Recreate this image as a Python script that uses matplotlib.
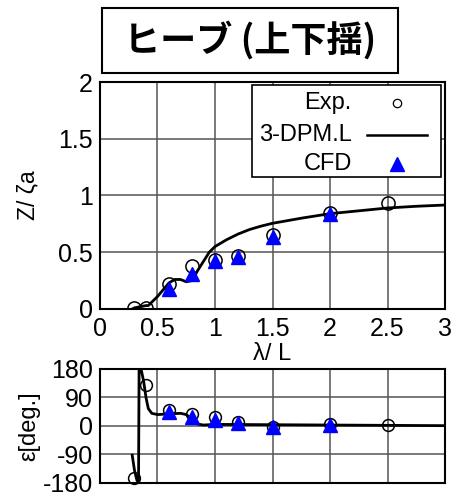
import matplotlib.pyplot as plt
from matplotlib.patches import Rectangle

plt.rcParams['font.family'] = ['Liberation Sans', 'DejaVu Sans']

# measured points
exp_x = [0.3, 0.4, 0.6, 0.8, 1.0, 1.2, 1.5, 2.0, 2.5]
exp_amp = [0.01, 0.01, 0.22, 0.38, 0.43, 0.47, 0.65, 0.85, 0.93]
exp_phase = [-165, 130, 51, 38, 28, 12, -4, 6, 3]

# CFD results
cfd_x = [0.6, 0.8, 1.0, 1.2, 1.5, 2.0]
cfd_amp = [0.18, 0.31, 0.42, 0.46, 0.63, 0.84]
cfd_phase = [45, 27, 19, 8, -2, 3]

# 3-DPM.L curve
dpm_x = [0.28, 0.3, 0.35, 0.4, 0.42, 0.45, 0.5, 0.55, 0.6, 0.65, 0.7, 0.75, 0.8,
         0.85, 0.9, 0.95, 1.0, 1.1, 1.2, 1.3, 1.4, 1.5, 1.75, 2.0, 2.25, 2.5, 2.75, 3.0]
dpm_amp = [0.0, 0.01, 0.02, 0.03, 0.03, 0.06, 0.11, 0.17, 0.23, 0.26, 0.26, 0.24, 0.25,
           0.34, 0.42, 0.50, 0.55, 0.61, 0.66, 0.70, 0.73, 0.755, 0.80, 0.84, 0.865, 0.89, 0.905, 0.916]
dpm_px = [0.28, 0.30, 0.32, 0.335, 0.34, 0.36, 0.38, 0.40, 0.42, 0.45, 0.5, 0.6, 0.7,
          0.75, 0.8, 0.85, 0.9, 1.0, 1.5, 2.0, 2.5, 3.0]
dpm_phase = [-92, -140, -170, -180, 180, 175, 140, 90, 55, 40, 36, 38, 40,
             36, 22, 6, 3, 5, 4, 3, 2, 1]

fig = plt.figure(figsize=(4.57, 4.97), dpi=100)
ax1 = fig.add_axes([0.2188, 0.3783, 0.755, 0.4567])
ax2 = fig.add_axes([0.2188, 0.0282, 0.755, 0.2294])

for ax in (ax1, ax2):
    ax.grid(True, color='#555555', linewidth=1.1)
    ax.set_axisbelow(True)
    ax.tick_params(direction='in', length=0, labelsize=18, pad=5)
    for s in ax.spines.values():
        s.set_linewidth(1.5)
    ax.set_xlim(0, 3)
    ax.set_xticks([0, 0.5, 1, 1.5, 2, 2.5, 3])

# amplitude
ax1.plot(dpm_x, dpm_amp, color='black', linewidth=2, zorder=3)
ax1.plot(exp_x, exp_amp, 'o', mfc='none', mec='black', ms=9.5, mew=1.1, zorder=4)
ax1.plot(cfd_x, cfd_amp, '^', color='blue', ms=10.5, zorder=5)
ax1.set_ylim(0, 2)
ax1.set_yticks([0, 0.5, 1, 1.5, 2])
ax1.set_xticklabels(['0', '0.5', '1', '1.5', '2', '2.5', '3'])
ax1.set_yticklabels(['0', '0.5', '1', '1.5', '2'])
ax1.tick_params(axis='x', pad=6)
ax1.set_xlabel('λ/ L', fontsize=17, labelpad=1)
ax1.set_ylabel('Z/ ζa', fontsize=16.5, labelpad=14)

# legend box
T = ax1.transAxes
ax1.add_patch(Rectangle((0.4406, 0.5815), 0.5474, 0.4055, transform=T,
                        facecolor='white', edgecolor='black', linewidth=1.2, zorder=6))
ax1.text(0.7295, 0.906, 'Exp.', transform=T, ha='right', va='center', fontsize=17, zorder=7)
ax1.text(0.7295, 0.7665, '3-DPM.L', transform=T, ha='right', va='center', fontsize=17, zorder=7)
ax1.text(0.7295, 0.6374, 'CFD', transform=T, ha='right', va='center', fontsize=17, zorder=7)
ax1.plot([0.86], [0.906], 'o', mfc='none', mec='black', ms=6, mew=0.9, transform=T, zorder=7)
ax1.plot([0.773, 0.949], [0.7665, 0.7665], color='black', linewidth=1.8, transform=T, zorder=7)
ax1.plot([0.86], [0.6374], '^', color='blue', ms=10, transform=T, zorder=7)

# phase
ax2.plot(dpm_px, dpm_phase, color='black', linewidth=2, zorder=3)
ax2.plot(exp_x, exp_phase, 'o', mfc='none', mec='black', ms=8.5, mew=1.1, zorder=4, clip_on=False)
ax2.plot(cfd_x, cfd_phase, '^', color='blue', ms=10, zorder=5)
ax2.set_ylim(-180, 180)
ax2.set_yticks([-180, -90, 0, 90, 180])
ax2.set_yticklabels(['-180', '-90', '0', '90', '180'])
ax2.set_xticklabels([])
ax2.set_ylabel('ε[deg.]', fontsize=17, labelpad=2)

# title box
fig.add_artist(Rectangle((0.2232, 0.853), 0.6477, 0.1308, transform=fig.transFigure,
                         facecolor='white', edgecolor='black', linewidth=1.5))
fig.text(0.547, 0.9185, 'ヒーブ (上下揺)', ha='center', va='center', fontsize=26,
         fontweight='bold', family=['Noto Sans CJK JP', 'DejaVu Sans'])

fig.savefig('out.png', dpi=100)
